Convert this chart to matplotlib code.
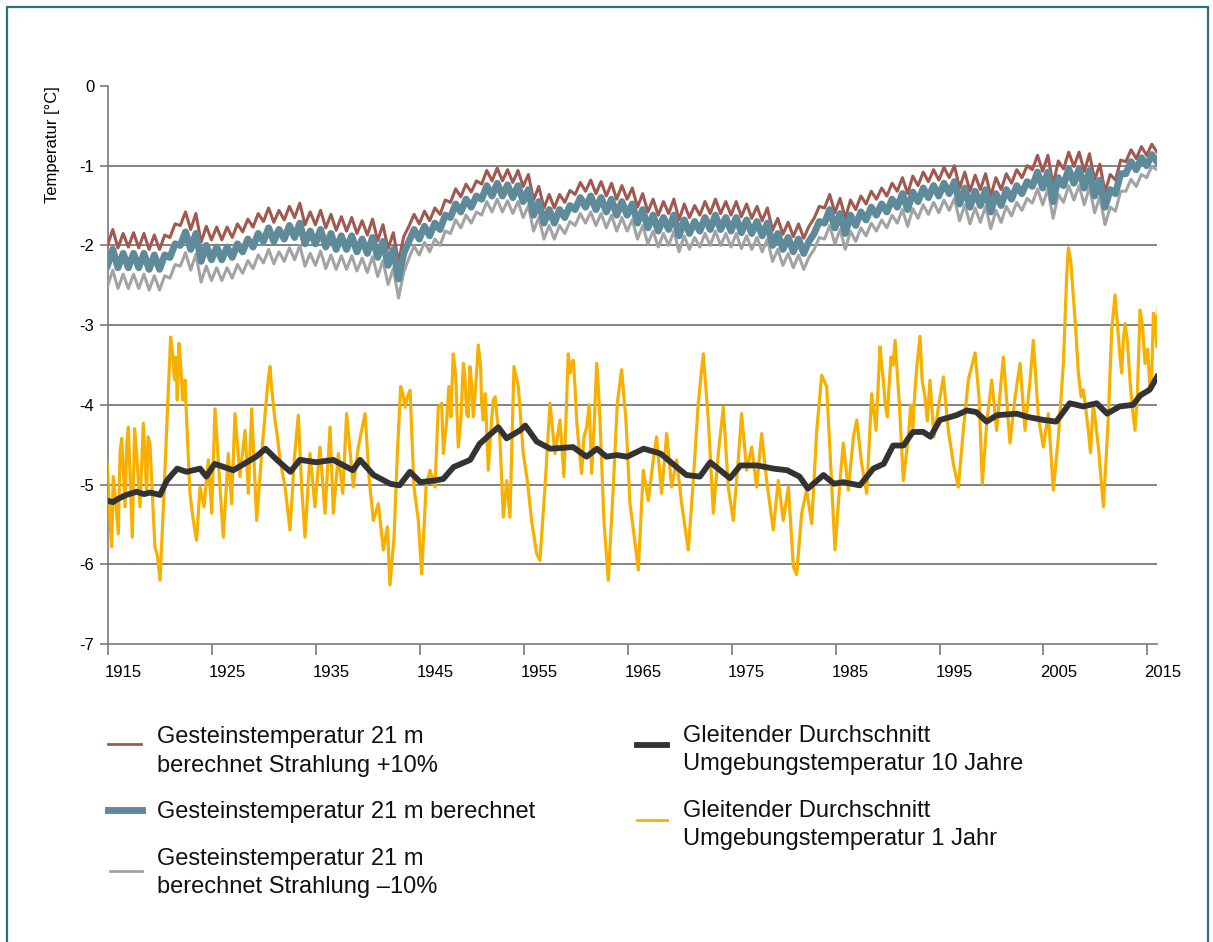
import numpy as np
import matplotlib.pyplot as plt
from matplotlib.lines import Line2D
from matplotlib.patches import Rectangle
from matplotlib.transforms import ScaledTranslation

plt.rcParams['font.family'] = ['Liberation Sans', 'DejaVu Sans']

# rock temperature at 21 m: yearly summer high / winter low (blue = computed)
rock_years = np.arange(1914, 2016)
blue_hi = [
    -2.05, -2.10, -2.10, -2.10, -2.12, -2.12,
    -1.98, -1.83, -1.85, -2.00, -2.02, -2.02, -1.98, -1.92, -1.85, -1.78,
    -1.80, -1.75, -1.72, -1.82, -1.80, -1.85, -1.88, -1.88, -1.92, -1.90,
    -1.95, -2.05, -2.10, -1.80, -1.76, -1.72, -1.62, -1.48, -1.42, -1.38,
    -1.25, -1.22, -1.24, -1.25, -1.30, -1.45, -1.55, -1.55, -1.50, -1.40,
    -1.38, -1.40, -1.42, -1.45, -1.48, -1.55, -1.62, -1.65, -1.62, -1.68,
    -1.70, -1.65, -1.62, -1.65, -1.65, -1.68, -1.70, -1.72, -1.85, -1.90,
    -1.92, -1.95, -1.70, -1.55, -1.60, -1.62, -1.58, -1.52, -1.48, -1.42,
    -1.35, -1.33, -1.28, -1.25, -1.22, -1.20, -1.28, -1.32, -1.30, -1.35,
    -1.30, -1.25, -1.20, -1.08, -1.08, -1.15, -1.04, -1.04, -1.06, -1.18,
    -1.30, -1.10, -0.95, -0.90, -0.86, -0.88]
blue_lo = [
    -2.25, -2.28, -2.28, -2.28, -2.30, -2.30,
    -2.15, -2.00, -2.05, -2.20, -2.18, -2.18, -2.15, -2.08, -2.02, -1.95,
    -1.95, -1.92, -1.90, -1.98, -1.98, -2.02, -2.05, -2.05, -2.08, -2.10,
    -2.15, -2.25, -2.42, -1.95, -1.92, -1.88, -1.80, -1.65, -1.58, -1.52,
    -1.42, -1.38, -1.38, -1.40, -1.45, -1.62, -1.72, -1.72, -1.65, -1.55,
    -1.52, -1.55, -1.58, -1.62, -1.62, -1.72, -1.78, -1.82, -1.80, -1.88,
    -1.85, -1.82, -1.80, -1.80, -1.82, -1.84, -1.85, -1.88, -2.00, -2.05,
    -2.08, -2.10, -1.85, -1.72, -1.78, -1.85, -1.75, -1.68, -1.62, -1.58,
    -1.52, -1.55, -1.45, -1.40, -1.38, -1.35, -1.48, -1.52, -1.50, -1.58,
    -1.50, -1.42, -1.35, -1.26, -1.28, -1.45, -1.25, -1.22, -1.28, -1.38,
    -1.52, -1.35, -1.10, -1.05, -1.00, -0.95]
# distance of the +10% (red) and -10% (gray) runs from the blue one
red_offset = [
    0.25, 0.25, 0.26, 0.25, 0.25, 0.25,
    0.25, 0.25, 0.25, 0.24, 0.25, 0.25, 0.25, 0.25, 0.25, 0.25,
    0.24, 0.24, 0.25, 0.24, 0.24, 0.24, 0.24, 0.23, 0.23, 0.23,
    0.21, 0.21, 0.21, 0.19, 0.19, 0.19, 0.19, 0.19, 0.19, 0.19,
    0.19, 0.19, 0.19, 0.19, 0.19, 0.19, 0.19, 0.19, 0.19, 0.19,
    0.20, 0.20, 0.20, 0.20, 0.20, 0.20, 0.20, 0.20, 0.20, 0.20,
    0.20, 0.20, 0.20, 0.20, 0.20, 0.20, 0.19, 0.19, 0.19, 0.19,
    0.19, 0.19, 0.19, 0.19, 0.19, 0.19, 0.20, 0.20, 0.20, 0.20,
    0.20, 0.20, 0.20, 0.20, 0.20, 0.20, 0.20, 0.20, 0.20, 0.20,
    0.20, 0.20, 0.20, 0.21, 0.21, 0.21, 0.21, 0.21, 0.21, 0.20,
    0.19, 0.17, 0.15, 0.14, 0.13, 0.12]
gray_offset = [
    0.26, 0.26, 0.26, 0.26, 0.26, 0.26,
    0.26, 0.26, 0.26, 0.26, 0.26, 0.26, 0.26, 0.27, 0.27, 0.27,
    0.28, 0.28, 0.28, 0.28, 0.27, 0.27, 0.25, 0.25, 0.24, 0.24,
    0.24, 0.24, 0.24, 0.21, 0.20, 0.20, 0.20, 0.20, 0.20, 0.20,
    0.20, 0.20, 0.20, 0.20, 0.20, 0.20, 0.20, 0.20, 0.20, 0.20,
    0.20, 0.20, 0.20, 0.20, 0.20, 0.20, 0.20, 0.20, 0.20, 0.20,
    0.20, 0.20, 0.20, 0.20, 0.20, 0.20, 0.20, 0.20, 0.20, 0.20,
    0.20, 0.20, 0.20, 0.20, 0.20, 0.20, 0.20, 0.20, 0.20, 0.20,
    0.20, 0.21, 0.21, 0.21, 0.21, 0.21, 0.21, 0.21, 0.21, 0.21,
    0.21, 0.21, 0.21, 0.21, 0.21, 0.21, 0.21, 0.21, 0.21, 0.21,
    0.22, 0.22, 0.22, 0.21, 0.15, 0.10]

# 10-year moving average of air temperature
black_years = [
    1913.9, 1914.5, 1915.0, 1915.8, 1916.8, 1917.5, 1918.1, 1919.05, 1919.7, 1920.7,
    1921.6, 1922.9, 1923.5, 1924.3, 1926.1, 1927.4, 1928.3, 1929.2, 1930.3, 1931.6,
    1932.5, 1934.1, 1935.7, 1937.6, 1938.3, 1939.6, 1941.2, 1942.1, 1943.1, 1944.1,
    1945.4, 1946.3, 1947.3, 1948.9, 1949.8, 1951.6, 1952.4, 1953.7, 1954.2, 1955.3,
    1956.6, 1958.8, 1960.1, 1961.1, 1962.0, 1963.0, 1964.0, 1965.6, 1967.2, 1968.4,
    1969.7, 1971.0, 1972.0, 1973.9, 1974.9, 1976.5, 1978.1, 1979.4, 1980.6, 1981.4,
    1982.9, 1983.9, 1984.8, 1986.4, 1987.7, 1988.7, 1989.6, 1990.6, 1991.5, 1992.5,
    1993.2, 1994.1, 1995.7, 1996.7, 1997.6, 1998.6, 1999.6, 2001.5, 2002.5, 2004.1,
    2005.3, 2006.6, 2007.9, 2009.2, 2010.2, 2011.4, 2012.7, 2013.4, 2014.3, 2015.0]
black_vals = [
    -5.20, -5.22, -5.18, -5.13, -5.09, -5.12, -5.10, -5.13, -4.95, -4.80,
    -4.84, -4.80, -4.90, -4.74, -4.82, -4.72, -4.65, -4.55, -4.69, -4.84,
    -4.69, -4.72, -4.69, -4.82, -4.69, -4.88, -4.99, -5.01, -4.84, -4.97,
    -4.95, -4.93, -4.78, -4.69, -4.49, -4.28, -4.42, -4.32, -4.26, -4.46,
    -4.55, -4.53, -4.65, -4.55, -4.65, -4.63, -4.65, -4.55, -4.61, -4.74,
    -4.88, -4.90, -4.72, -4.92, -4.76, -4.76, -4.80, -4.82, -4.90, -5.05,
    -4.88, -4.99, -4.97, -5.01, -4.80, -4.74, -4.51, -4.51, -4.34, -4.34,
    -4.40, -4.19, -4.13, -4.07, -4.09, -4.21, -4.13, -4.11, -4.15, -4.19,
    -4.21, -3.98, -4.02, -3.98, -4.11, -4.02, -4.00, -3.88, -3.81, -3.65]

# 1-year moving average of air temperature (main turning points)
orange_years = [
    1913.98, 1914.23, 1914.39, 1914.71, 1915.03, 1915.36, 1915.68, 1916.0, 1916.38, 1916.8,
    1917.12, 1917.44, 1917.76, 1918.08, 1918.56, 1919.05, 1919.43, 1919.75, 1920.07, 1920.49,
    1920.87, 1921.23, 1921.61, 1921.93, 1922.25, 1922.57, 1922.9, 1923.28, 1923.7, 1924.02,
    1924.34, 1924.82, 1925.14, 1925.62, 1925.94, 1926.26, 1926.74, 1927.23, 1927.55, 1927.87,
    1928.35, 1928.83, 1929.25, 1929.63, 1930.11, 1930.6, 1931.08, 1931.56, 1931.97, 1932.36,
    1932.68, 1933.0, 1933.48, 1933.96, 1934.44, 1934.93, 1935.41, 1935.73, 1936.21, 1936.63,
    1937.01, 1937.65, 1938.13, 1938.78, 1939.19, 1939.58, 1940.06, 1940.54, 1940.93, 1941.18,
    1941.57, 1941.89, 1942.21, 1942.63, 1943.11, 1943.49, 1943.91, 1944.23, 1944.65, 1945.03,
    1945.51, 1945.83, 1946.32, 1946.64, 1947.27, 1947.75, 1948.24, 1948.56, 1948.88, 1949.2,
    1949.68, 1950.16, 1950.64, 1951.12, 1951.51, 1952.09, 1952.41, 1952.73, 1953.11, 1953.53,
    1954.01, 1954.4, 1954.81, 1955.3, 1955.61, 1956.1, 1956.58, 1957.06, 1957.54, 1957.92,
    1958.34, 1958.82, 1959.14, 1959.62, 1960.11, 1960.59, 1961.07, 1961.39, 1961.77, 1962.19,
    1962.67, 1963.06, 1963.47, 1963.89, 1964.28, 1964.66, 1965.08, 1965.56, 1966.04, 1966.52,
    1966.84, 1967.32, 1967.81, 1968.29, 1968.77, 1969.25, 1969.89, 1970.37, 1970.85, 1971.33,
    1971.82, 1972.3, 1972.78, 1973.26, 1973.74, 1974.22, 1974.7, 1975.02, 1975.51, 1975.99,
    1976.47, 1976.95, 1977.43, 1978.07, 1978.55, 1979.03, 1979.52, 1980.0, 1980.32, 1980.8,
    1981.28, 1981.77, 1982.25, 1982.73, 1983.21, 1983.59, 1984.01, 1984.49, 1984.81, 1985.29,
    1985.78, 1986.1, 1986.58, 1987.06, 1987.54, 1987.96, 1988.34, 1988.66, 1989.05, 1989.4,
    1989.79, 1990.2, 1990.59, 1991.07, 1991.71, 1992.19, 1992.67, 1993.15, 1993.54, 1994.02,
    1994.44, 1994.92, 1995.4, 1995.88, 1996.36, 1996.84, 1997.49, 1997.87, 1998.19, 1998.61,
    1999.09, 1999.57, 2000.21, 2000.85, 2001.34, 2001.82, 2002.3, 2002.78, 2003.1, 2003.58,
    2004.06, 2004.54, 2005.02, 2005.51, 2005.99, 2006.47, 2006.95, 2007.43, 2007.91, 2008.39,
    2008.87, 2009.36, 2009.84, 2010.32, 2010.64, 2010.96, 2011.44, 2011.92, 2012.4, 2012.88,
    2013.37, 2013.85, 2014.33, 2014.65, 2014.97, 2015.13]
orange_vals = [
    -4.74, -5.45, -5.78, -5.11, -5.62, -4.42, -5.28, -4.28, -5.66, -4.61,
    -5.28, -4.23, -5.11, -4.49, -5.78, -6.20, -5.11, -4.11, -3.15, -3.69,
    -3.23, -3.94, -4.19, -5.11, -5.45, -5.70, -5.03, -5.28, -4.69, -5.36,
    -4.05, -5.03, -5.66, -4.61, -5.24, -4.11, -4.90, -4.32, -5.11, -4.05,
    -5.45, -4.61, -3.98, -3.52, -4.19, -4.69, -5.03, -5.57, -4.69, -4.13,
    -5.03, -5.66, -4.61, -5.28, -4.53, -5.36, -4.28, -5.36, -4.61, -5.11,
    -4.11, -5.03, -4.53, -4.11, -4.95, -5.45, -5.24, -5.82, -5.53, -6.26,
    -5.66, -4.61, -3.77, -4.03, -3.82, -5.03, -5.45, -6.12, -5.03, -4.82,
    -5.03, -4.03, -4.61, -4.19, -3.36, -4.53, -3.48, -4.11, -3.52, -4.15,
    -3.25, -4.19, -4.82, -3.94, -4.19, -5.41, -4.95, -5.41, -3.52, -3.77,
    -4.61, -4.95, -5.45, -5.87, -5.95, -5.03, -3.98, -4.61, -4.19, -4.90,
    -3.36, -3.44, -4.19, -4.86, -4.28, -4.86, -3.48, -4.19, -5.45, -6.20,
    -5.03, -3.98, -3.56, -4.19, -5.24, -5.62, -6.07, -4.82, -5.20, -4.69,
    -4.40, -5.11, -4.36, -5.03, -4.69, -5.24, -5.82, -4.95, -3.98, -3.36,
    -4.19, -5.36, -4.61, -4.03, -5.03, -5.45, -4.69, -4.11, -4.82, -4.53,
    -5.03, -4.36, -4.95, -5.57, -4.95, -5.45, -5.03, -6.03, -6.13, -5.36,
    -5.07, -5.49, -4.32, -3.63, -3.77, -4.74, -5.82, -4.95, -4.48, -5.07,
    -4.40, -4.19, -4.74, -5.11, -3.86, -4.32, -3.27, -3.69, -4.15, -3.40,
    -3.19, -3.98, -4.95, -4.40, -3.81, -3.14, -3.90, -3.69, -4.40, -3.98,
    -3.65, -4.32, -4.74, -5.03, -4.32, -3.69, -3.35, -3.90, -4.99, -4.23,
    -3.69, -4.32, -3.40, -4.48, -3.90, -3.48, -4.32, -3.69, -3.19, -4.15,
    -4.53, -4.11, -5.07, -4.40, -3.48, -2.03, -2.64, -3.60, -3.81, -4.32,
    -3.98, -4.53, -5.28, -4.15, -3.06, -2.62, -3.40, -2.98, -3.69, -4.32,
    -2.81, -3.48, -3.81, -2.85, -3.27, -2.77]
# smaller wiggles between the turning points
orange_years_fine = [
    1914.55, 1915.2, 1915.85, 1916.2, 1916.6, 1917.3, 1917.9, 1918.3, 1918.8,
    1920.26, 1920.39, 1920.58, 1920.71, 1921.03, 1921.29, 1921.45,
    1929.45, 1929.8, 1930.35, 1942.4, 1942.85,
    1946.15, 1946.85, 1947.05, 1947.5, 1948.0, 1948.4, 1948.72, 1949.04, 1949.45,
    1949.9, 1950.0, 1950.35, 1950.9, 1951.3, 1951.75,
    1958.5, 1958.65, 1959.0, 1959.35, 1959.85, 1960.35, 1960.85, 1961.2,
    1988.5, 1988.85, 1989.2, 1989.6, 1990.0, 1991.3, 1991.5, 1991.9, 1992.4, 1992.9,
    2006.3, 2006.7, 2007.2, 2007.7, 2008.1, 2008.6,
    2011.2, 2011.6, 2011.75, 2012.15, 2012.6, 2013.1, 2013.6, 2014.1, 2014.5, 2014.8]
orange_vals_fine = [
    -4.90, -4.60, -4.50, -5.00, -4.30, -4.70, -4.40, -5.10, -5.90,
    -3.36, -3.61, -3.40, -3.94, -3.48, -3.90, -3.69,
    -3.70, -3.80, -4.40, -3.85, -3.90,
    -3.98, -3.77, -4.15, -3.61, -4.19, -3.65, -4.15, -3.73, -3.73,
    -3.52, -3.98, -3.86, -4.30, -3.90, -4.40,
    -3.60, -3.50, -3.80, -4.50, -4.40, -4.00, -4.20, -3.70,
    -3.50, -4.00, -3.80, -3.50, -3.60, -4.00, -4.30, -3.50, -3.70, -4.20,
    -2.40, -2.20, -3.10, -3.90, -4.00, -4.60,
    -3.00, -3.60, -3.20, -3.20, -4.00, -3.90, -3.00, -3.30, -3.60, -2.90]

tick_years = list(range(1915, 2016, 10))
y_ticks = [0, -1, -2, -3, -4, -5, -6, -7]

W, H = 1213, 942


def wave(offset):
    # alternate winter low / summer high of each year
    x = np.empty(2 * len(rock_years))
    y = np.empty(2 * len(rock_years))
    x[0::2] = rock_years
    x[1::2] = rock_years + 0.5
    y[0::2] = np.array(blue_lo) + np.array(offset)
    y[1::2] = np.array(blue_hi) + np.array(offset)
    return x, y


fig = plt.figure(figsize=(W / 100, H / 100), dpi=100)
ax = fig.add_axes([108.3 / W, (H - 644) / H, (1157 - 108.3) / W, (644 - 86) / H])

x0 = 1914.07
ax.set_xlim(x0, 2015.0)
ax.set_ylim(-7, 0)

for g in [-1, -2, -3, -4, -5, -6]:
    ax.axhline(g, color='#6e6e6e', lw=1.2, zorder=1)

zeros = [0.0] * len(rock_years)
xg, yg = wave([-v for v in gray_offset])
xr, yr = wave(red_offset)
xb, yb = wave(zeros)
ax.plot(xg, yg, color='#a3a3a3', lw=2.2, zorder=3, solid_joinstyle='round')
ax.plot(xr, yr, color='#a0584f', lw=2.2, zorder=3, solid_joinstyle='round')
ax.plot(xb, yb, color='#5e8a9a', lw=5, zorder=4, solid_joinstyle='round')

ox = np.array(orange_years + orange_years_fine)
oy = np.array(orange_vals + orange_vals_fine)
order = np.argsort(ox)
ax.plot(ox[order], oy[order], color='#f8b000', lw=2.3, zorder=3,
        solid_joinstyle='round')
ax.plot(black_years, black_vals, color='#333333', lw=4.2, zorder=5,
        solid_joinstyle='round')

for s in ['top', 'right']:
    ax.spines[s].set_visible(False)
for s in ['left', 'bottom']:
    ax.spines[s].set_color('#7a7a7a')
    ax.spines[s].set_linewidth(1.2)

ax.set_xticks([x0 + (y - 1915) for y in tick_years], labels=[str(y) for y in tick_years])
ax.set_xticks([x0 + (y - 1910) for y in range(1920, 2020, 10)], minor=True)
ax.tick_params(axis='x', which='major', length=8, width=1.2, color='#7a7a7a',
               labelsize=12, pad=7)
ax.tick_params(axis='x', which='minor', length=4, width=1.2, color='#7a7a7a')
shift = ScaledTranslation(15 / 100, 0, fig.dpi_scale_trans)
for lab in ax.get_xticklabels():
    lab.set_transform(lab.get_transform() + shift)

ax.set_yticks(y_ticks, labels=[str(v) for v in y_ticks])
ax.tick_params(axis='y', length=6, width=1.2, color='#7a7a7a', labelsize=12, pad=4)

fig.text(52 / W, 1 - 86 / H, 'Temperatur [°C]', rotation=90, ha='center', va='top',
         fontsize=12)

# legend, drawn by hand in figure pixels
def fx(px):
    return px / W


def fy(py):
    return 1 - py / H


legend_lines = [
    (108, 141, 744, '#a0584f', 2),
    (108, 142, 810, '#5e8a9a', 5),
    (110, 142, 871, '#a3a3a3', 2),
    (637, 667, 745, '#333333', 4.2),
    (637, 667, 820, '#f8b000', 2),
]
for xa, xb_, yy, c, lw in legend_lines:
    fig.add_artist(Line2D([fx(xa), fx(xb_)], [fy(yy), fy(yy)], color=c, lw=lw))

legend_texts = [
    (157, 743, 'Gesteinstemperatur 21 m'),
    (157, 772, 'berechnet Strahlung +10%'),
    (157, 818, 'Gesteinstemperatur 21 m berechnet'),
    (157, 865, 'Gesteinstemperatur 21 m'),
    (157, 893, 'berechnet Strahlung \u201310%'),
    (683, 742, 'Gleitender Durchschnitt'),
    (683, 770, 'Umgebungstemperatur 10 Jahre'),
    (683, 817, 'Gleitender Durchschnitt'),
    (683, 845, 'Umgebungstemperatur 1 Jahr'),
]
for xx, yy, t in legend_texts:
    fig.text(fx(xx), fy(yy), t, fontsize=17, ha='left', va='baseline', color='#111111')

fig.add_artist(Rectangle((fx(7), fy(H + 20)), fx(1208 - 7), (H + 13) / H,
                         fill=False, edgecolor='#2f6d82', lw=1.6,
                         transform=fig.transFigure))

fig.savefig('out.png', dpi=100, facecolor='white')
